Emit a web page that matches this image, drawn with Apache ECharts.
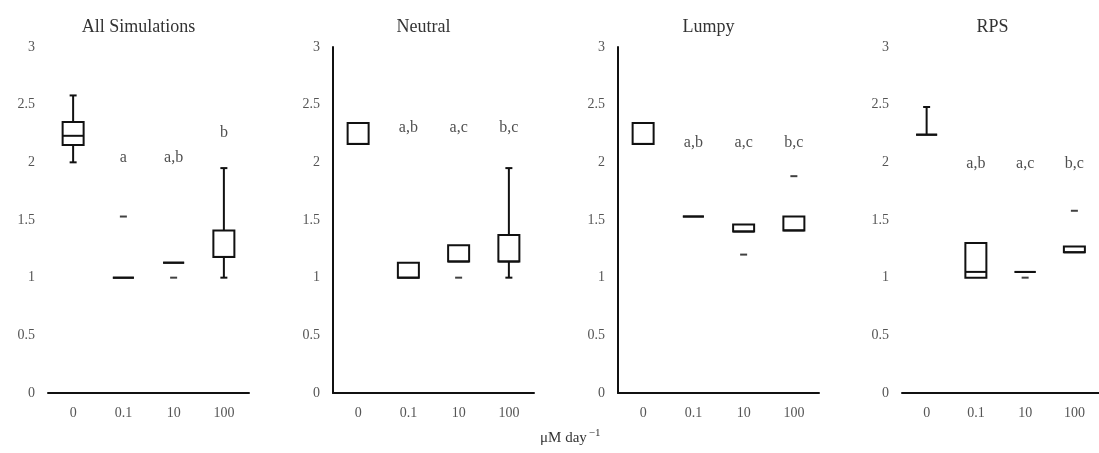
<!DOCTYPE html>
<html>
<head>
<meta charset="utf-8">
<script src="https://cdn.jsdelivr.net/npm/echarts@6/dist/echarts.min.js"></script>
<style>
  html, body { margin: 0; padding: 0; background: #fff; }
  #chart { width: 1099px; height: 453px; }
</style>
</head>
<body>
<div id="chart"></div>
<script>
// Dose categories (μM day⁻¹) and panel titles
const categories = ['0', '0.1', '10', '100'];
const panelTitles = ['All Simulations', 'Neutral', 'Lumpy', 'RPS'];

// Box statistics per panel: [min, Q1, median, Q3, max] for each dose
const boxAll     = [[2.0, 2.15, 2.23, 2.35, 2.58], [1.0, 1.0, 1.0, 1.0, 1.0], [1.13, 1.13, 1.13, 1.13, 1.13], [1.0, 1.18, 1.18, 1.41, 1.95]];
const boxNeutral = [[2.16, 2.16, 2.16, 2.34, 2.34], [1.0, 1.0, 1.0, 1.13, 1.13], [1.14, 1.14, 1.14, 1.28, 1.28], [1.0, 1.14, 1.14, 1.37, 1.95]];
const boxLumpy   = [[2.16, 2.16, 2.16, 2.34, 2.34], [1.53, 1.53, 1.53, 1.53, 1.53], [1.40, 1.40, 1.40, 1.46, 1.46], [1.41, 1.41, 1.41, 1.53, 1.53]];
const boxRPS     = [[2.24, 2.24, 2.24, 2.24, 2.48], [1.0, 1.0, 1.05, 1.30, 1.30], [1.05, 1.05, 1.05, 1.05, 1.05], [1.22, 1.22, 1.22, 1.27, 1.27]];

// Outliers per panel: [dose index, value]
const outAll     = [[1, 1.53], [2, 1.0]];
const outNeutral = [[2, 1.0]];
const outLumpy   = [[2, 1.2], [3, 1.88]];
const outRPS     = [[2, 1.0], [3, 1.58]];

// Significance letters and the height they sit at
const lettersAll     = ['', 'a', 'a,b', 'b'];
const lettersNeutral = ['', 'a,b', 'a,c', 'b,c'];
const lettersLumpy   = ['', 'a,b', 'a,c', 'b,c'];
const lettersRPS     = ['', 'a,b', 'a,c', 'b,c'];
const letterYAll     = [0, 2.04, 2.04, 2.26];
const letterYNeutral = [0, 2.30, 2.30, 2.30];
const letterYLumpy   = [0, 2.17, 2.17, 2.17];
const letterYRPS     = [0, 1.99, 1.99, 1.99];

const boxes = [boxAll, boxNeutral, boxLumpy, boxRPS];
const outliers = [outAll, outNeutral, outLumpy, outRPS];
const letters = [lettersAll, lettersNeutral, lettersLumpy, lettersRPS];
const letterY = [letterYAll, letterYNeutral, letterYLumpy, letterYRPS];
const showYLine = [false, true, true, false];

const serif = 'Liberation Serif, Times New Roman, serif';
const ink = '#111';
const gridLefts = [48, 333, 618, 902];
const gridW = 201, gridTop = 47, gridH = 346;
const BOX_W = 21, CAP_W = 7;

// Box-and-whisker glyph: box outline, median line, whiskers with short caps
function renderBox(params, api) {
  const x = api.coord([api.value(0), 0])[0];
  const y = k => api.coord([api.value(0), api.value(k)])[1];
  const yMin = y(1), yQ1 = y(2), yMed = y(3), yQ3 = y(4), yMax = y(5);
  const h = BOX_W / 2, c = CAP_W / 2;
  const st = { stroke: ink, lineWidth: 2, fill: null };
  const kids = [
    { type: 'rect', shape: { x: x - h, y: yQ3, width: BOX_W, height: yQ1 - yQ3 }, style: st },
    { type: 'line', shape: { x1: x - h, y1: yMed, x2: x + h, y2: yMed }, style: st }
  ];
  if (yMax < yQ3) {
    kids.push({ type: 'line', shape: { x1: x, y1: yQ3, x2: x, y2: yMax }, style: st });
    kids.push({ type: 'line', shape: { x1: x - c, y1: yMax, x2: x + c, y2: yMax }, style: st });
  }
  if (yMin > yQ1) {
    kids.push({ type: 'line', shape: { x1: x, y1: yQ1, x2: x, y2: yMin }, style: st });
    kids.push({ type: 'line', shape: { x1: x - c, y1: yMin, x2: x + c, y2: yMin }, style: st });
  }
  return { type: 'group', children: kids };
}

const grid = [], xAxis = [], yAxis = [], series = [], title = [];
for (let i = 0; i < 4; i++) {
  grid.push({ left: gridLefts[i], top: gridTop, width: gridW, height: gridH });
  title.push({
    text: panelTitles[i],
    left: gridLefts[i] + gridW / 2 - 15,
    top: 13,
    textAlign: 'center',
    textStyle: { fontFamily: serif, fontSize: 18, fontWeight: 'normal', color: '#333' }
  });
  xAxis.push({
    type: 'category', gridIndex: i, data: categories,
    axisLine: { show: true, lineStyle: { color: ink, width: 2 } },
    axisTick: { show: false },
    axisLabel: { fontFamily: serif, fontSize: 14, color: '#555', margin: 13 },
    splitLine: { show: false }
  });
  yAxis.push({
    type: 'value', gridIndex: i, min: 0, max: 3, interval: 0.5,
    axisLine: { show: showYLine[i], lineStyle: { color: ink, width: 2 } },
    axisTick: { show: false },
    axisLabel: { fontFamily: serif, fontSize: 14, color: '#555', margin: 13 },
    splitLine: { show: false }
  });
  series.push({
    type: 'custom', xAxisIndex: i, yAxisIndex: i,
    renderItem: renderBox,
    data: boxes[i].map((b, k) => [k].concat(b)),
    encode: { x: 0, y: [1, 2, 3, 4, 5] },
    silent: true, animation: false
  });
  series.push({
    type: 'scatter', xAxisIndex: i, yAxisIndex: i,
    symbol: 'rect', symbolSize: [7, 2],
    itemStyle: { color: ink },
    data: outliers[i],
    silent: true, animation: false
  });
  series.push({
    type: 'scatter', xAxisIndex: i, yAxisIndex: i,
    symbolSize: 0, silent: true, animation: false,
    data: categories.map((c, k) => ({ value: [k, letterY[i][k]], name: letters[i][k] })),
    label: {
      show: true, position: 'inside',
      formatter: p => p.name,
      fontFamily: serif, fontSize: 16, color: '#222'
    }
  });
}

const chart = echarts.init(document.getElementById('chart'), null, { renderer: 'canvas' });
chart.setOption({
  backgroundColor: '#fff',
  animation: false,
  title, grid, xAxis, yAxis, series,
  graphic: [{
    type: 'text', left: 540, top: 428,
    style: {
      text: '{a|μM day}{s|−1}',
      rich: {
        a: { fontFamily: serif, fontSize: 15, fill: '#333' },
        s: { fontFamily: serif, fontSize: 11, fill: '#333', verticalAlign: 'top', padding: [0, 0, 9, 2] }
      }
    }
  }]
});
</script>
</body>
</html>
